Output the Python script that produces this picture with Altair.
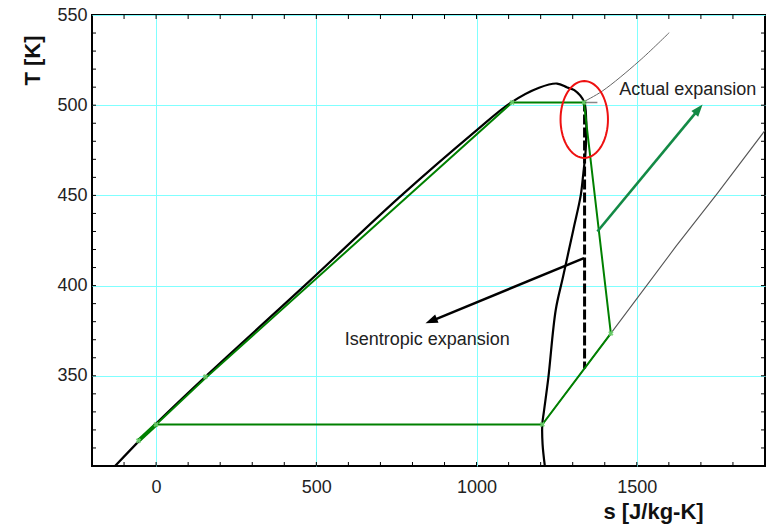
import math
import numpy as np
import pandas as pd
import altair as alt

# ---------------- data ----------------
# saturation dome (black)
dome_s = [-128, 0, 153, 466, 757, 997, 1106, 1195, 1251, 1283, 1305, 1335, 1342, 1342,
          1340, 1333, 1325, 1302, 1270, 1247, 1224, 1210, 1205, 1206, 1213]
dome_T = [300, 323.5, 349.4, 400.4, 448.6, 485.6, 501.3, 509.7, 512, 509.8, 508.3, 502, 492, 482,
          474, 462, 450, 431, 405, 386.5, 349, 330, 323, 312, 300]

# ORC cycle (green)
cyc_s = [-55, 0, 154, 1111, 1335, 1419, 1205, 0]
cyc_T = [314, 323, 348.7, 501.5, 501.5, 373.5, 323, 323]
pump_s = [-55, 0]
pump_T = [314, 323]
mark_s = [-55, 0, 154, 1111, 1335, 1205, 1419]
mark_T = [314, 323, 349.5, 501.5, 501.5, 323, 373.5]

# isobars (gray)
lowp_s = [1205, 1419, 1622, 1752, 1900]
lowp_T = [323, 373.5, 421.7, 451.3, 486]
highp_s = [1335, 1392, 1507, 1601]
highp_T = [502, 507.8, 524.4, 540.2]
stub_s = [1335, 1377]
stub_T = [501.5, 501.5]

# isentropic expansion (dashed)
isen_s = [1337, 1337]
isen_T = [502, 354]

# annotation arrows: (tail_s, tail_T, tip_s, tip_T)
black_arrow = (1335, 415.2, 841, 379.1)
green_arrow = (1377, 430, 1705, 500.4)

# red ellipse: centre and radii
ell_center = (1336, 492.1)
ell_radius = (74, 21.3)

# labels
ann_text = ["Isentropic expansion", "Actual expansion"]
ann_s = [846, 1445]
ann_T = [367, 505.4]
ann_align = ["center", "left"]

x_ticks = [0, 500, 1000, 1500]
y_ticks = [350, 400, 450, 500, 550]
x_minor = list(range(-100, 1900, 100))
y_minor = list(range(310, 550, 10))

# ---------------- layout ----------------
W, H = 673, 451
XD = [-200, 1900]
YD = [300, 550]
kx = W / (XD[1] - XD[0])
ky = H / (YD[1] - YD[0])
FONT = "Liberation Sans"

xs = alt.Scale(domain=XD, nice=False, zero=False)
ys = alt.Scale(domain=YD, nice=False, zero=False)


def path_df(s, T):
    return pd.DataFrame({"s": s, "T": T, "o": list(range(len(s)))})


def line(df, color, width, dash=None, interp="linear"):
    kw = dict(color=color, strokeWidth=width, interpolate=interp, clip=True)
    if dash:
        kw["strokeDash"] = dash
    return alt.Chart(df).mark_line(**kw).encode(
        x=alt.X("s:Q", scale=xs), y=alt.Y("T:Q", scale=ys), order="o:Q")


def arrow_head(arrow, back_px):
    ts, tT, hs, hT = arrow
    dx = (hs - ts) * kx
    dy = -(hT - tT) * ky
    L = math.hypot(dx, dy)
    ux, uy = dx / L, dy / L
    cs = hs - back_px * ux / kx
    cT = hT + back_px * uy / ky
    ang = math.degrees(math.atan2(ux, -uy)) % 360
    return cs, cT, ang


base_x = alt.X("s:Q", scale=xs,
               axis=alt.Axis(values=x_ticks, format="d", grid=True, gridColor="#80ffff",
                             gridWidth=1, domain=False, ticks=False, labelFont=FONT,
                             labelFontSize=18, labelColor="#222", labelPadding=12,
                             title="s [J/kg-K]", titleFont=FONT, titleFontSize=22,
                             titleFontWeight="bold", titleColor="#111", titleX=561, titleY=45,
                             titleBaseline="middle", titleAlign="center"))
base_y = alt.Y("T:Q", scale=ys,
               axis=alt.Axis(values=y_ticks, format="d", grid=True, gridColor="#80ffff",
                             gridWidth=1, domain=False, ticks=False, labelFont=FONT,
                             labelFontSize=18, labelColor="#222", labelPadding=5,
                             title="T [K]", titleFont=FONT, titleFontSize=22,
                             titleFontWeight="bold", titleColor="#111", titleX=-60, titleY=45,
                             titleAngle=270, titleBaseline="middle", titleAlign="center"))

# axes carrier (invisible)
axes = alt.Chart(pd.DataFrame({"s": [XD[0]], "T": [YD[0]]})).mark_point(opacity=0).encode(
    x=base_x, y=base_y)

# inward minor ticks
xm = pd.DataFrame({"s": x_minor})
ym = pd.DataFrame({"T": y_minor})
tick_bot = alt.Chart(xm).mark_rule(color="black", strokeWidth=1).encode(
    x=alt.X("s:Q", scale=xs), y=alt.value(H), y2=alt.value(H - 4))
tick_top = alt.Chart(xm).mark_rule(color="black", strokeWidth=1).encode(
    x=alt.X("s:Q", scale=xs), y=alt.value(0), y2=alt.value(4))
tick_left = alt.Chart(ym).mark_rule(color="black", strokeWidth=1).encode(
    y=alt.Y("T:Q", scale=ys), x=alt.value(0), x2=alt.value(4))
tick_right = alt.Chart(ym).mark_rule(color="black", strokeWidth=1).encode(
    y=alt.Y("T:Q", scale=ys), x=alt.value(W - 4), x2=alt.value(W))

gray1 = line(path_df(lowp_s, lowp_T), "#555", 1.1)
gray2 = line(path_df(highp_s, highp_T), "#666", 1.0, interp="catmull-rom")
gray3 = line(path_df(stub_s, stub_T), "#888", 1.5)
dome = line(path_df(dome_s, dome_T), "black", 2.2, interp="catmull-rom")
isen = line(path_df(isen_s, isen_T), "black", 3, dash=[10, 3])
cycle = line(path_df(cyc_s, cyc_T), "#008000", 2)
pump = line(path_df(pump_s, pump_T), "#008000", 4)

marks = alt.Chart(pd.DataFrame({"s": mark_s, "T": mark_T})).mark_point(
    shape="cross", angle=45, size=30, filled=True, color="#6fcf6f", opacity=0.9).encode(
    x=alt.X("s:Q", scale=xs), y=alt.Y("T:Q", scale=ys))

# ellipse outline
th = np.linspace(0, 2 * np.pi, 73)
ell = line(path_df(list(ell_center[0] + ell_radius[0] * np.cos(th)),
                   list(ell_center[1] + ell_radius[1] * np.sin(th))), "#ee1111", 2)

HEAD = "M0,-1L0.72,1L-0.72,1Z"
layers = []
for arrow, color, width in [(black_arrow, "black", 2.4), (green_arrow, "#138a45", 2.6)]:
    cs, cT, ang = arrow_head(arrow, 6)
    layers.append(line(path_df([arrow[0], cs], [arrow[1], cT]), color, width))
    layers.append(alt.Chart(pd.DataFrame({"s": [cs], "T": [cT]})).mark_point(
        shape=HEAD, angle=ang, size=150, filled=True, color=color, opacity=1,
        strokeWidth=0).encode(x=alt.X("s:Q", scale=xs), y=alt.Y("T:Q", scale=ys)))

texts = []
for t, s, T, a in zip(ann_text, ann_s, ann_T, ann_align):
    texts.append(alt.Chart(pd.DataFrame({"s": [s], "T": [T], "t": [t]})).mark_text(
        font=FONT, fontSize=18, color="#222", align=a, baseline="alphabetic").encode(
        x=alt.X("s:Q", scale=xs), y=alt.Y("T:Q", scale=ys), text="t:N"))

chart = alt.layer(
    axes, tick_bot, tick_top, tick_left, tick_right,
    gray1, gray2, gray3, dome, isen, cycle, pump, marks, ell, *layers, *texts
).properties(
    width=W, height=H,
    autosize=alt.AutoSizeParams(type="none"),
    padding={"left": 92, "top": 15, "right": 6, "bottom": 60},
    background="white",
).configure_view(stroke="black", strokeWidth=2)

chart.save("out.html", embed_options={"renderer": "svg", "actions": False})
